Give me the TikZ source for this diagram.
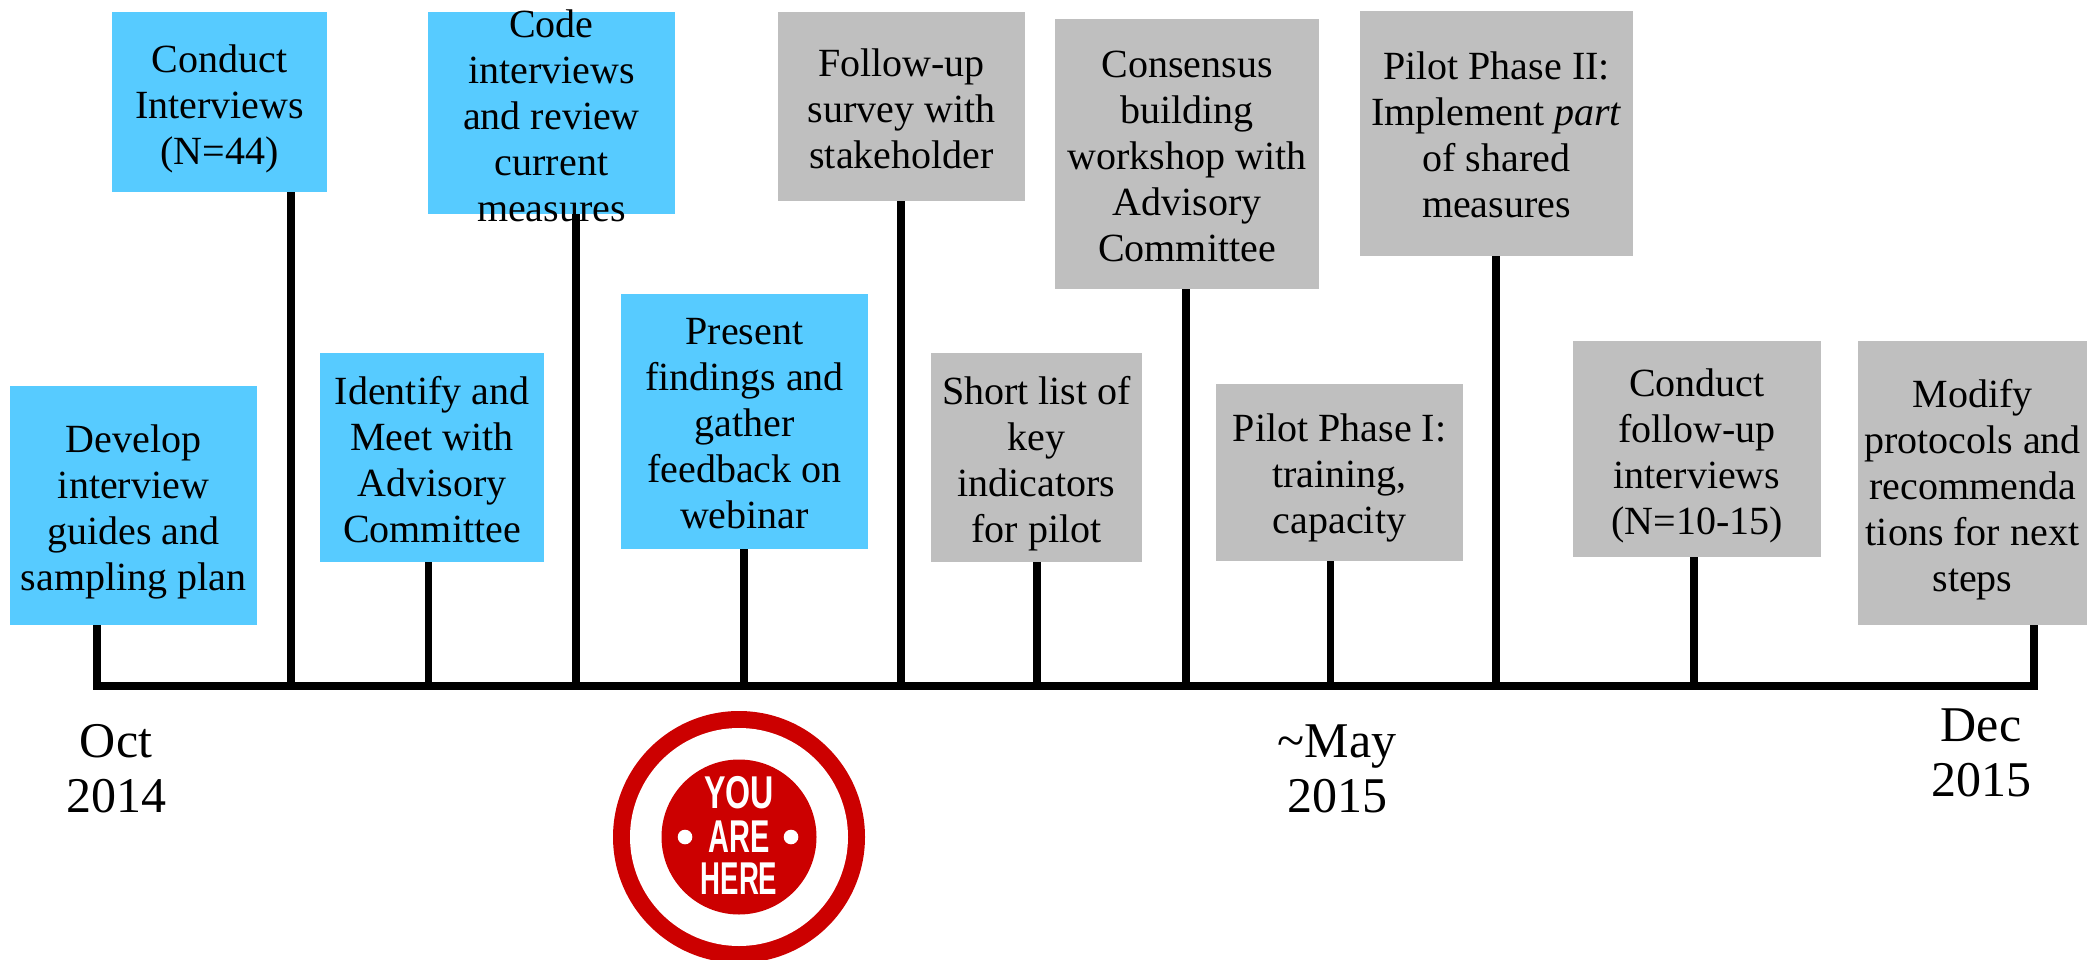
\documentclass[tikz,border=0pt]{standalone}
\usepackage{fontspec}
\setmainfont{Liberation Serif}
\newfontfamily\badgefont{Liberation Sans}
\definecolor{bluefill}{HTML}{57CBFF}
\definecolor{grayfill}{HTML}{BFBFBF}
\definecolor{badgered}{HTML}{CC0000}
\tikzset{
  boxtext/.style={align=center,inner sep=0pt,font=\fontsize{40}{46}\selectfont,text=black},
  stem/.style={line width=7.5pt,black},
  axisline/.style={line width=7.5pt,black,line cap=rect},
  datelabel/.style={align=center,inner sep=0pt,font=\fontsize{50}{55}\selectfont},
  badgeword/.style={inner sep=0pt,text=white,font=\badgefont\bfseries\fontsize{46}{46}\selectfont}
}
\newcommand{\bx}[7]{% name, colour, x0, y0, x1, y1, text shift
  \path[fill=#2] (#3,#4) rectangle (#5,#6);
  \coordinate (#1sw) at (#3,#6);
  \coordinate (#1c) at ({(#3+#5)/2},{(#4+#6)/2+#7});
}
\newcommand{\bt}[2]{\node[boxtext] (#1) at (#1c) {#2};}
\begin{document}
\begin{tikzpicture}[x=1pt,y=-1pt]
\useasboundingbox (0,0) rectangle (2089,960);
% axis ticks
\coordinate (t1) at (97,686);
\coordinate (t2) at (291,686);
\coordinate (t3) at (428.5,686);
\coordinate (t4) at (576,686);
\coordinate (t5) at (744,686);
\coordinate (t6) at (901,686);
\coordinate (t7) at (1037,686);
\coordinate (t8) at (1186,686);
\coordinate (t9) at (1330.5,686);
\coordinate (t10) at (1496,686);
\coordinate (t11) at (1694,686);
\coordinate (t12) at (2034,686);
% box fills
\bx{dev}{bluefill}{10}{386}{257}{625}{6.5}
\bx{con}{bluefill}{112}{12}{327}{192}{6.5}
\bx{ide}{bluefill}{320}{353}{544}{562}{2.5}
\bx{cod}{bluefill}{428}{12}{675}{214}{3}
\bx{pre}{bluefill}{621}{294}{868}{549}{2.5}
\bx{fol}{grayfill}{778}{12}{1025}{201}{2.5}
\bx{sho}{grayfill}{931}{353}{1142}{562}{6.5}
\bx{cns}{grayfill}{1055}{19}{1319}{289}{2.5}
\bx{pia}{grayfill}{1216}{384}{1463}{561}{5}
\bx{pib}{grayfill}{1360}{11}{1633}{256}{1.5}
\bx{cfu}{grayfill}{1573}{341}{1821}{557}{6.5}
\bx{mod}{grayfill}{1858}{341}{2087}{625}{6.5}
% stems and axis
\draw[stem] (t1) -- (t1 |- devsw);
\draw[stem] (t2) -- (t2 |- consw);
\draw[stem] (t3) -- (t3 |- idesw);
\draw[stem] (t4) -- (t4 |- codsw);
\draw[stem] (t5) -- (t5 |- presw);
\draw[stem] (t6) -- (t6 |- folsw);
\draw[stem] (t7) -- (t7 |- shosw);
\draw[stem] (t8) -- (t8 |- cnssw);
\draw[stem] (t9) -- (t9 |- piasw);
\draw[stem] (t10) -- (t10 |- pibsw);
\draw[stem] (t11) -- (t11 |- cfusw);
\draw[stem] (t12) -- (t12 |- modsw);
\draw[axisline] (t1) -- (t12);
% box texts
\bt{dev}{Develop\\interview\\guides and\\sampling plan}
\bt{con}{Conduct\\Interviews\\(N=44)}
\bt{ide}{Identify and\\Meet with\\Advisory\\Committee}
\bt{cod}{Code\\interviews\\and review\\current\\measures}
\bt{pre}{Present\\findings and\\gather\\feedback on\\webinar}
\bt{fol}{Follow-up\\survey with\\stakeholder}
\bt{sho}{Short list of\\key\\indicators\\for pilot}
\bt{cns}{Consensus\\building\\workshop with\\Advisory\\Committee}
\bt{pia}{Pilot Phase I:\\training,\\capacity}
\bt{pib}{Pilot Phase II:\\Implement \textit{part}\\of shared\\measures}
\bt{cfu}{Conduct\\follow-up\\interviews\\(N=10-15)}
\bt{mod}{Modify\\protocols and\\recommenda\\tions for next\\steps}
% date labels
\node[datelabel] (oct) at (116,769) {Oct\\2014};
\node[datelabel] (may) at (1337,769) {\symbol{126}May\\2015};
\node[datelabel] (dec) at (1981,753) {Dec\\2015};
% badge
\begin{scope}
\clip (0,0) rectangle (2089,960);
\fill[badgered] (739,837) circle (126);
\fill[white] (739,837) circle (109);
\fill[badgered] (739,837) circle (77.5);
\end{scope}
\fill[white] (685,837) circle (7.3);
\fill[white] (791,837) circle (7.3);
\node[badgeword,xscale=.70] (you) at (739,793) {YOU};
\node[badgeword,xscale=.63] (are) at (739,837) {ARE};
\node[badgeword,xscale=.60] (here) at (739,879) {HERE};
\end{tikzpicture}
\end{document}
